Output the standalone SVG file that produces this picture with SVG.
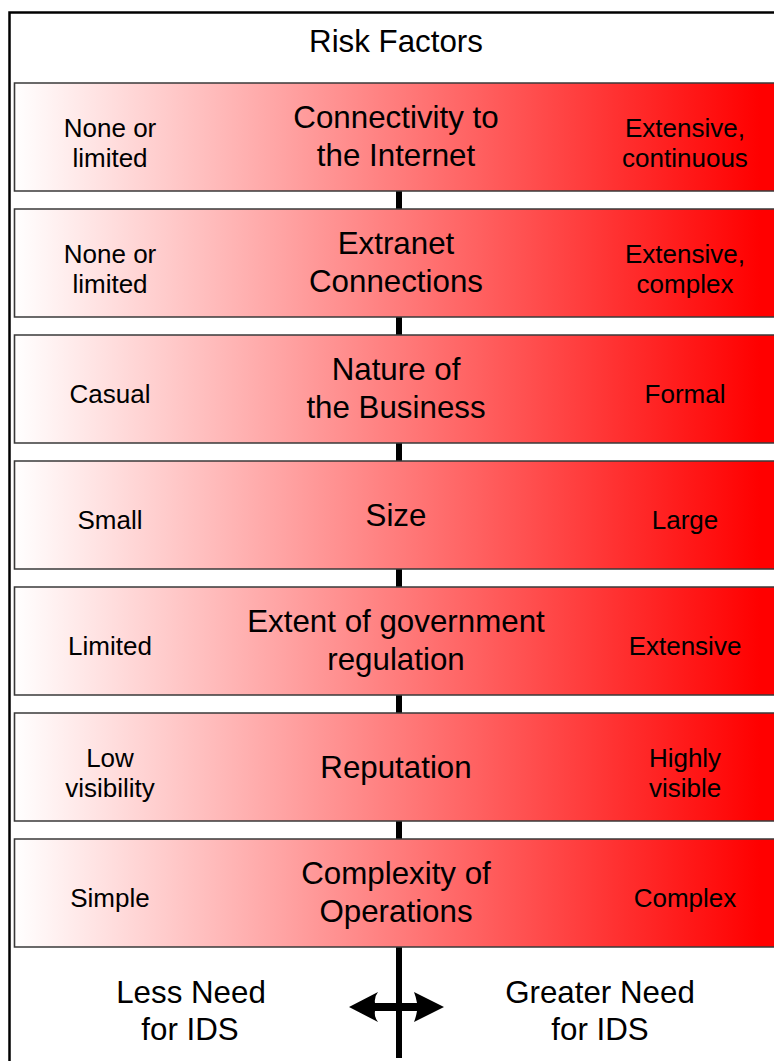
<svg xmlns="http://www.w3.org/2000/svg" width="774" height="1061" viewBox="0 0 774 1061">
<defs>
<linearGradient id="rg" gradientUnits="userSpaceOnUse" x1="14" y1="0" x2="760" y2="0">
<stop offset="0" stop-color="#ffffff"/>
<stop offset="1" stop-color="#ff0000"/>
</linearGradient>
<style>
.bar{fill:url(#rg);stroke:#3a3a3a;stroke-width:1.6}
text{font-family:"Liberation Sans",Arial,sans-serif;fill:#000;text-anchor:middle}
.t{font-size:31.3px}
.s{font-size:26px}
</style>
</defs>
<rect width="774" height="1061" fill="#ffffff"/>
<path d="M9.5,1061 V12.5 H774" fill="none" stroke="#000" stroke-width="2.5"/>
<g id="connectors">
<rect x="396" y="100" width="6" height="958" fill="#000"/>
<path d="M349,1007 L378,992 Q374,997 375,1003 L417,1003 Q416,997 414,992 L444,1007 L414,1022 Q416,1017 417,1011 L375,1011 Q374,1017 378,1022 Z" fill="#000"/>
</g>
<g id="title"><text class="t" x="396" y="52">Risk Factors</text></g>
<g id="bar1">
<path class="bar" d="M774,83 H14.5 V191 H774"/>
<text class="s" x="110" y="137">None or</text><text class="s" x="110" y="167">limited</text>
<text class="t" x="396" y="128">Connectivity to</text><text class="t" x="396" y="166">the Internet</text>
<text class="s" x="685" y="137">Extensive,</text><text class="s" x="685" y="167">continuous</text>
</g>
<g id="bar2">
<path class="bar" d="M774,209 H14.5 V317 H774"/>
<text class="s" x="110" y="263">None or</text><text class="s" x="110" y="293">limited</text>
<text class="t" x="396" y="254">Extranet</text><text class="t" x="396" y="292">Connections</text>
<text class="s" x="685" y="263">Extensive,</text><text class="s" x="685" y="293">complex</text>
</g>
<g id="bar3">
<path class="bar" d="M774,335 H14.5 V443 H774"/>
<text class="s" x="110" y="403">Casual</text>
<text class="t" x="396" y="380">Nature of</text><text class="t" x="396" y="418">the Business</text>
<text class="s" x="685" y="403">Formal</text>
</g>
<g id="bar4">
<path class="bar" d="M774,461 H14.5 V569 H774"/>
<text class="s" x="110" y="529">Small</text>
<text class="t" x="396" y="526">Size</text>
<text class="s" x="685" y="529">Large</text>
</g>
<g id="bar5">
<path class="bar" d="M774,587 H14.5 V695 H774"/>
<text class="s" x="110" y="655">Limited</text>
<text class="t" x="396" y="632">Extent of government</text><text class="t" x="396" y="670">regulation</text>
<text class="s" x="685" y="655">Extensive</text>
</g>
<g id="bar6">
<path class="bar" d="M774,713 H14.5 V821 H774"/>
<text class="s" x="110" y="767">Low</text><text class="s" x="110" y="797">visibility</text>
<text class="t" x="396" y="778">Reputation</text>
<text class="s" x="685" y="767">Highly</text><text class="s" x="685" y="797">visible</text>
</g>
<g id="bar7">
<path class="bar" d="M774,839 H14.5 V947 H774"/>
<text class="s" x="110" y="907">Simple</text>
<text class="t" x="396" y="884">Complexity of</text><text class="t" x="396" y="922">Operations</text>
<text class="s" x="685" y="907">Complex</text>
</g>
<g id="less">
<text class="t" x="191" y="1003">Less Need</text><text class="t" x="190" y="1040">for IDS</text>
</g>
<g id="greater">
<text class="t" x="600" y="1003">Greater Need</text><text class="t" x="600" y="1040">for IDS</text>
</g>
</svg>
